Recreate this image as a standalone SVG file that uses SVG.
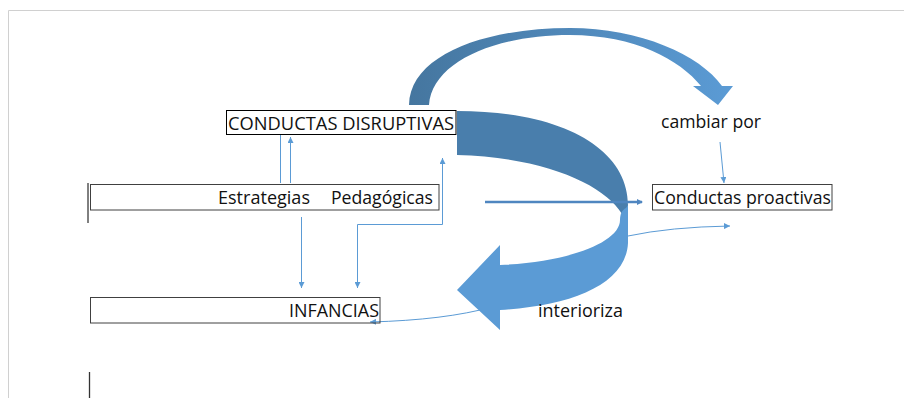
<svg xmlns="http://www.w3.org/2000/svg" width="904" height="398" viewBox="0 0 904 398">
<defs>
<style>
.t{font-family:"Open Sans","Noto Sans","Liberation Sans",sans-serif;font-size:18px;fill:#111}
.box{fill:none;stroke:#404040;stroke-width:1}
.thin{fill:none;stroke:#5b9bd5;stroke-width:1}
</style>
<marker id="ah" viewBox="0 0 6 6" refX="6" refY="3" markerWidth="6" markerHeight="6" markerUnits="userSpaceOnUse" orient="auto">
<path d="M0,0 L6,3 L0,6 z" fill="#5b9bd5"/>
</marker>
<marker id="ah2" viewBox="0 0 6 6" refX="5" refY="3" markerWidth="6" markerHeight="7" markerUnits="userSpaceOnUse" orient="auto">
<path d="M0,0 L6,3 L0,6 z" fill="#4f86c0"/>
</marker>
<linearGradient id="gTop" gradientUnits="userSpaceOnUse" x1="409" y1="0" x2="733" y2="0">
<stop offset="0" stop-color="#45769f"/>
<stop offset="1" stop-color="#5b9bd5"/>
</linearGradient>
</defs>
<rect x="0" y="0" width="904" height="398" fill="#fff"/>
<g id="page">
<path d="M8.5 398 V10.5 H904" fill="none" stroke="#d0d0d0" stroke-width="1"/>
<line x1="88" y1="183" x2="88" y2="223" stroke="#000" stroke-width="1"/>
<line x1="89.5" y1="372" x2="89.5" y2="398" stroke="#333" stroke-width="1.3"/>
</g>
<g id="connectors">
<line class="thin" x1="280.5" y1="135" x2="280.5" y2="183"/>
<line class="thin" x1="290.5" y1="183" x2="290.5" y2="137" marker-end="url(#ah)"/>
<line class="thin" x1="301.5" y1="217" x2="301.5" y2="288" marker-end="url(#ah)"/>
<path class="thin" d="M357.5 224.5 H442.5 V158" marker-end="url(#ah)"/>
<path class="thin" d="M357.5 224.5 V288" marker-end="url(#ah)"/>
<line class="thin" x1="720" y1="142" x2="724" y2="183" marker-end="url(#ah)"/>
<path class="thin" d="M628 236 Q670 227 730 226" marker-end="url(#ah)"/>
<path class="thin" d="M492 307 Q445 320 370 322" marker-end="url(#ah)"/>
</g>
<g id="arrow-top">
<path d="M409 105 C410 55 485 28 570 28 C640 28 700 55 722 86 L733 86 L718 105 L693 86 L701 86 C680 60 635 35 570 35 C495 35 432 62 429 105 Z" fill="url(#gTop)"/>
</g>
<g id="arrow-u">
<path d="M457 111 C565 111 628 150 628 205 L628 222 L622 214 C605 185 545 157 457 155 Z" fill="#497eac"/>
<path d="M628 205 L628 243 C626 285 570 306 500 310 L500 330 L457 290 L500 245 L500 265 C570 262 620 242 620 220 C620 214 622 210 626 208 Z" fill="#5b9bd5"/>
</g>
<g id="connector-main">
<line x1="485" y1="202" x2="642" y2="202" stroke="#4f86c0" stroke-width="2.5" marker-end="url(#ah2)"/>
</g>
<g id="node-conductas-disruptivas">
<rect x="226.5" y="110.5" width="229.5" height="24" fill="none" stroke="#000" stroke-width="1"/>
<text class="t" x="228" y="129.5" textLength="226" lengthAdjust="spacingAndGlyphs">CONDUCTAS DISRUPTIVAS</text>
</g>
<g id="node-estrategias">
<rect class="box" x="90.5" y="184.5" width="348.5" height="25.5"/>
<text class="t" x="218" y="204" textLength="92" lengthAdjust="spacingAndGlyphs">Estrategias</text>
<text class="t" x="331" y="204" textLength="102" lengthAdjust="spacingAndGlyphs">Pedagógicas</text>
</g>
<g id="node-infancias">
<rect class="box" x="90.5" y="297.5" width="289.5" height="25.5"/>
<text class="t" x="289" y="317" textLength="90" lengthAdjust="spacingAndGlyphs">INFANCIAS</text>
</g>
<g id="node-conductas-proactivas">
<rect class="box" x="652.5" y="184.5" width="179.5" height="25.5"/>
<text class="t" x="654" y="204" textLength="177" lengthAdjust="spacingAndGlyphs">Conductas proactivas</text>
</g>
<g id="label-cambiar">
<text class="t" x="661" y="128" textLength="100" lengthAdjust="spacingAndGlyphs">cambiar por</text>
</g>
<g id="label-interioriza">
<text class="t" x="538" y="317" textLength="85" lengthAdjust="spacingAndGlyphs">interioriza</text>
</g>
</svg>
